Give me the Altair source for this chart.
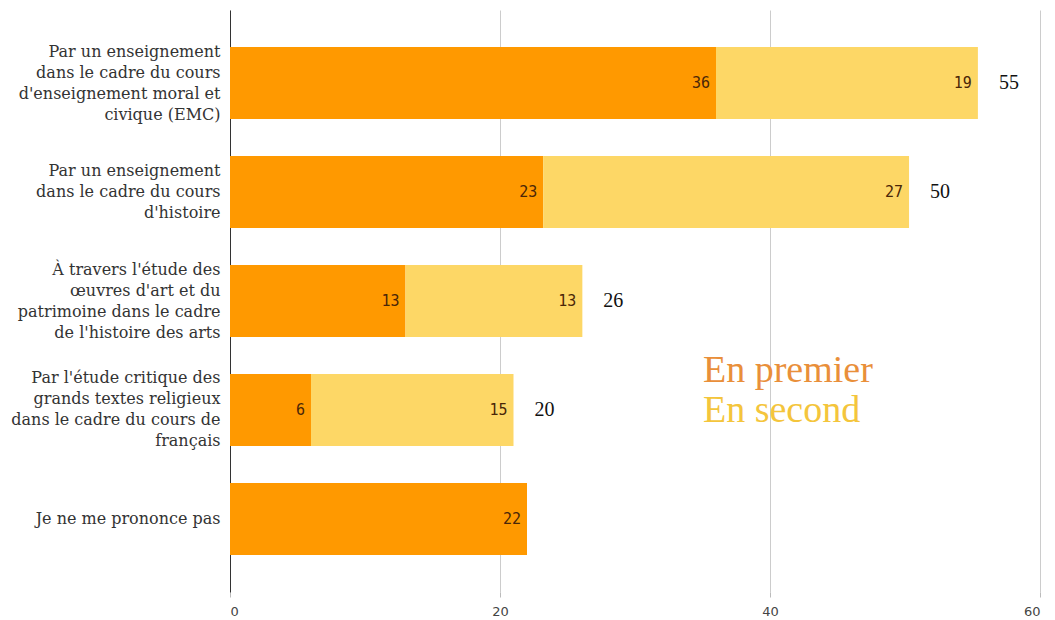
import altair as alt
import pandas as pd

categories = [
    "Par un enseignement|dans le cadre du cours|d'enseignement moral et|civique (EMC)",
    "Par un enseignement|dans le cadre du cours|d'histoire",
    "À travers l'étude des|œuvres d'art et du|patrimoine dans le cadre|de l'histoire des arts",
    "Par l'étude critique des|grands textes religieux|dans le cadre du cours de|français",
    "Je ne me prononce pas",
]
premier = [36.0, 23.2, 13.0, 6.0, 22.0]
second = [19.4, 27.1, 13.1, 15.0, 0.0]
premier_labels = [36, 23, 13, 6, 22]
second_labels = [19, 27, 13, 15, None]
totals = [55, 50, 26, 20, None]
series = ["En premier", "En second"]
bar_colors = ["#FF9900", "#FDD766"]
legend_colors = ["#E98F3A", "#F4C53C"]
x_ticks = [0, 20, 40, 60]

rows = []
for c, p, s, pl, sl in zip(categories, premier, second, premier_labels, second_labels):
    rows.append({"category": c, "series": series[0], "value": p, "label": pl, "order": 0})
    rows.append({"category": c, "series": series[1], "value": s, "label": sl, "order": 1})
df = pd.DataFrame(rows)

tot_rows = []
for c, p, s, t in zip(categories, premier, second, totals):
    if t is not None:
        tot_rows.append({"category": c, "end": p + s, "total": t})
tdf = pd.DataFrame(tot_rows)

y_scale = alt.Scale(paddingInner=0.34, paddingOuter=0.34)
y_enc = alt.Y(
    "category:N",
    sort=categories,
    scale=y_scale,
    axis=alt.Axis(
        title=None,
        labelExpr="split(datum.label, '|')",
        labelFont="DejaVu Serif",
        labelFontSize=16,
        labelColor="#333333",
        labelLineHeight=21,
        labelPadding=10,
        labelLimit=0,
        labelBaseline="middle",
        labelOffset={
            "condition": [
                {"test": "length(split(datum.value, '|')) == 4", "value": -31.5},
                {"test": "length(split(datum.value, '|')) == 3", "value": -21},
            ],
            "value": 0,
        },
        ticks=False,
        domainColor="#333333",
        domainWidth=1,
        grid=False,
    ),
)

x_scale = alt.Scale(domain=[0, 60], nice=False)
x_axis = alt.Axis(
    title=None,
    values=x_ticks,
    grid=True,
    gridColor="#cccccc",
    domain=False,
    tickColor="#bbbbbb",
    tickSize=5,
    labelFont="DejaVu Sans",
    labelFontSize=13,
    labelColor="#444444",
    labelPadding=8,
)

base = alt.Chart(df).transform_stack(
    stack="value",
    groupby=["category"],
    as_=["v0", "v1"],
    sort=[alt.SortField("order", order="ascending")],
)

bars = base.mark_bar().encode(
    y=y_enc,
    x=alt.X("v0:Q", scale=x_scale, axis=x_axis),
    x2="v1:Q",
    color=alt.Color("series:N", scale=alt.Scale(domain=series, range=bar_colors), legend=None),
)

vlabels = base.transform_filter("isValid(datum.label) && datum.value > 0").mark_text(
    align="right", baseline="middle", dx=-6,
    font="DejaVu Sans Mono", fontSize=15, color="#4a2608",
).encode(
    y=alt.Y("category:N", sort=categories),
    x=alt.X("v1:Q"),
    text="label:Q",
)

tlabels = alt.Chart(tdf).mark_text(
    align="left", baseline="middle", dx=21,
    font="Liberation Serif", fontSize=20, color="#111111",
).encode(
    y=alt.Y("category:N", sort=categories),
    x=alt.X("end:Q"),
    text="total:Q",
)

leg_df = pd.DataFrame({"label": series})
leg1 = alt.Chart(leg_df).transform_filter(alt.datum.label == series[0]).mark_text(
    align="left", baseline="alphabetic", font="Liberation Serif", fontSize=38,
    color=legend_colors[0],
).encode(x=alt.value(473), y=alt.value(372), text="label:N")
leg2 = alt.Chart(leg_df).transform_filter(alt.datum.label == series[1]).mark_text(
    align="left", baseline="alphabetic", font="Liberation Serif", fontSize=38,
    color=legend_colors[1],
).encode(x=alt.value(473), y=alt.value(412), text="label:N")

chart = alt.layer(bars, vlabels, tlabels, leg1, leg2).properties(
    width=810,
    height=582,
    autosize=alt.AutoSizeParams(type="none"),
    padding={"left": 230, "top": 10, "right": 15, "bottom": 28},
).configure_view(stroke=None)

chart.save("out.html", embed_options={"renderer": "svg", "actions": False})
